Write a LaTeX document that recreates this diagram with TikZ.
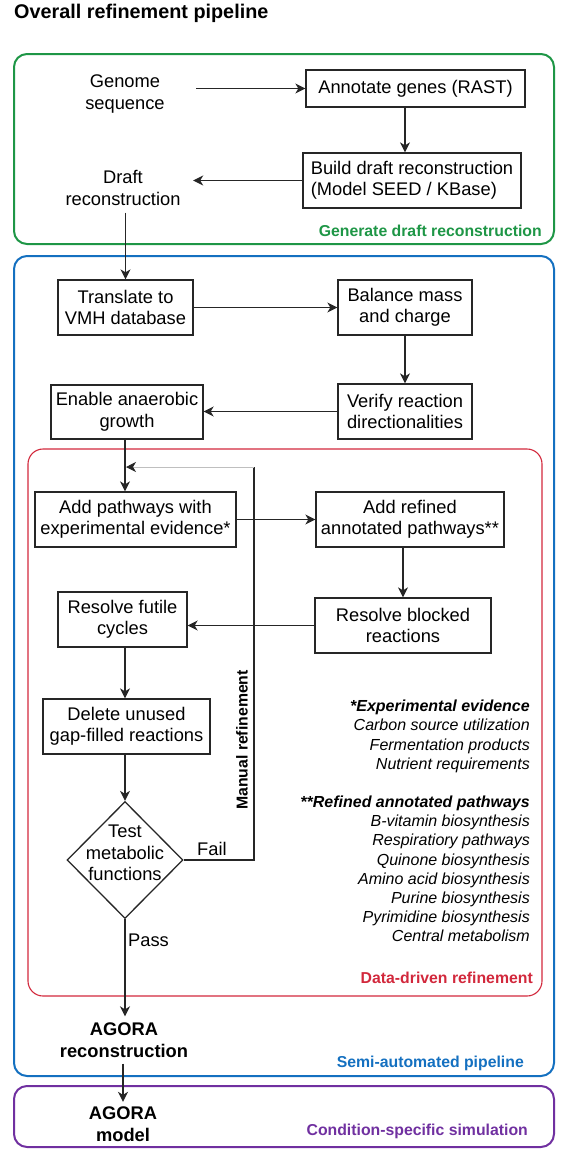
\documentclass[tikz,border=0pt]{standalone}
\usepackage{fontspec}
\setmainfont{Liberation Sans}
\usetikzlibrary{arrows.meta,shapes.geometric,calc}
\definecolor{cgreen}{RGB}{30,150,70}
\definecolor{cblue}{RGB}{20,112,192}
\definecolor{cred}{RGB}{210,40,60}
\definecolor{cpurple}{RGB}{112,48,160}
\newcommand{\myBody}{\fontsize{18.3}{21.5}\selectfont}
\newcommand{\myBodyBold}{\fontsize{18.3}{22}\selectfont\bfseries}
\newcommand{\myLab}{\fontsize{15.8}{19}\selectfont\bfseries}
\newcommand{\myLeg}{\fontsize{16}{19.17}\selectfont\itshape}
\begin{document}
\begin{tikzpicture}[x=1pt,y=-1pt,
  box/.style={draw=black!85, line width=1.3pt, inner sep=0pt, align=center, font=\myBody, minimum height=55pt},
  lbl/.style={inner sep=0pt, align=center, font=\myBody},
  frame/.style={line width=2pt, rounded corners=13pt},
  arr/.style={draw=black!85, line width=1.3pt, -{Stealth[length=10pt,width=10pt,inset=3pt]}},
  plain/.style={draw=black!85, line width=1.3pt},
  grp/.style={inner sep=0pt, anchor=east, font=\myLab}
]
\useasboundingbox (0,0) rectangle (575,1162);

% frames
\draw[frame, cgreen] (14,54) rectangle (554,244);
\draw[frame, cblue] (14,256) rectangle (554,1076);
\draw[cred, line width=1.1pt, rounded corners=15pt] (28,449) rectangle (542,996);
\draw[frame, cpurple] (14,1086) rectangle (554,1147);

\node[anchor=west, inner sep=0pt, font=\fontsize{19.8}{24}\selectfont\bfseries] (title) at (14,13) {Overall refinement pipeline};

\node[grp, text=cgreen] (lg) at (542,231) {Generate draft reconstruction};
\node[grp, text=cblue] (lb) at (524,1063) {Semi-automated pipeline};
\node[grp, text=cred] (lr) at (533,978) {Data-driven refinement};
\node[grp, text=cpurple] (lp) at (528,1131) {Condition-specific simulation};

% nodes
\coordinate (mx) at (125,0);
\coordinate (cx) at (405,0);
\node[lbl, minimum width=142pt] (genome) at (125,94) {Genome\\sequence};
\node[box, minimum width=219pt, minimum height=37pt] (annot) at (415.5,88.5) {Annotate genes (RAST)};
\node[box, minimum width=218pt, align=left] (build) at (412,180.5) {Build draft reconstruction\\(Model SEED / KBase)};
\node[lbl, minimum width=140pt, inner ysep=7pt] (draft) at (123,188) {Draft\\reconstruction};

\node[box, minimum width=135pt] (translate) at (125.5,307.5) {Translate to\\VMH database};
\node[box, minimum width=134pt] (balance) at (405,307.5) {Balance mass\\and charge};
\node[box, minimum width=134pt] (verify) at (405,411.5) {Verify reaction\\directionalities};
\node[box, minimum width=152pt, minimum height=54pt] (enable) at (127,412) {Enable anaerobic\\growth};

\node[box, minimum width=201pt] (addexp) at (135.5,519.5) {Add pathways with\\experimental evidence*};
\node[box, minimum width=188pt] (addref) at (410,519.5) {Add refined\\annotated pathways**};
\node[box, minimum width=176pt] (blocked) at (403,625.5) {Resolve blocked\\reactions};
\node[box, minimum width=129pt] (futile) at (122.5,619.5) {Resolve futile\\cycles};
\node[box, minimum width=167pt] (delete) at (126.5,726.5) {Delete unused\\gap-filled reactions};

\node[draw=black!85, line width=1.3pt, diamond, minimum width=116pt, minimum height=117pt, inner sep=0pt] (test) at (125,860) {};
\node[lbl] (testtxt) at (125,853) {Test\\metabolic\\functions};

\node[lbl, anchor=west] (fail) at (197,849) {Fail};
\node[lbl, anchor=west] (pass) at (128,940) {Pass};
\node[inner sep=0pt, rotate=90, font=\myLab] (manual) at (242,740) {Manual refinement};

\node[lbl, font=\myBodyBold, inner ysep=6pt] (agorarec) at (124,1040) {AGORA\\reconstruction};
\node[lbl, font=\myBodyBold, inner ysep=4.5pt] (agoramodel) at (123,1124) {AGORA\\model};

\node[anchor=north east, align=right, inner sep=0pt, font=\myLeg] (legend) at (530,700)
 {\textbf{*Experimental evidence}\\Carbon source utilization\\Fermentation products\\Nutrient requirements\\[19.17pt]
  \textbf{**Refined annotated pathways}\\B-vitamin biosynthesis\\Respiratiory pathways\\Quinone biosynthesis\\Amino acid biosynthesis\\Purine biosynthesis\\Pyrimidine biosynthesis\\Central metabolism};

% connectors
\draw[arr] (genome.east |- annot.west) -- (annot.west);
\draw[arr] (annot.south -| cx) -- (build.north -| cx);
\draw[arr] (build.west) -- (draft.east |- build.west);
\draw[arr] (draft.south -| translate.north) -- (translate.north);
\draw[arr] (translate.east) -- (balance.west);
\draw[arr] (balance.south) -- (verify.north);
\draw[arr] (verify.west) -- (enable.east |- verify.west);
\draw[arr] (enable.south -| mx) -- (addexp.north -| mx);
\draw[arr] (addexp.east) -- (addref.west |- addexp.east);
\draw[arr] (addref.south -| blocked.north) -- (blocked.north);
\draw[arr] (blocked.west) -- (futile.east |- blocked.west);
\draw[arr] (futile.south -| mx) -- (delete.north -| mx);
\draw[arr] (delete.south -| mx) -- (test.north);
\draw[arr] (test.south) -- (agorarec.north -| test.south);
\draw[arr] (agorarec.south -| agoramodel.north) -- (agoramodel.north);

% manual refinement loop
\coordinate (fr) at (254,467);
\draw[plain] (test.east) -| (fr);
\draw[draw=black!25, line width=1pt, -{Stealth[length=10pt,width=10pt,inset=3pt,black!85]}] (fr) -- ($(fr -| mx)+(1,0)$);
\end{tikzpicture}
\end{document}
